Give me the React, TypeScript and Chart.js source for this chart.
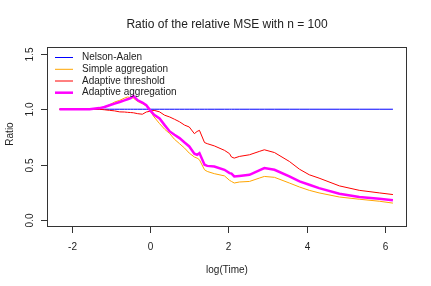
import React, { useEffect, useRef } from "react";
import { Chart, registerables } from "chart.js";

Chart.register(...registerables);

const TITLE = "Ratio of the relative MSE with n = 100";
const X_LABEL = "log(Time)";
const Y_LABEL = "Ratio";
const X_TICKS = [-2, 0, 2, 4, 6];
const X_TICK_LABELS = ["-2", "0", "2", "4", "6"];
const Y_TICKS = [0, 0.5, 1, 1.5];
const Y_TICK_LABELS = ["0.0", "0.5", "1.0", "1.5"];

const LOG_TIME = [
  -2.32, -1.8, -1.55, -1.3, -1.17, -1.04, -0.91, -0.78, -0.66, -0.58, -0.5, -0.43,
  -0.32, -0.2, -0.1, 0.0, 0.1, 0.24, 0.37, 0.5, 0.62, 0.75, 0.88, 1.0, 1.13, 1.2,
  1.26, 1.39, 1.46, 1.64, 1.9, 2.03, 2.08, 2.15, 2.28, 2.54, 2.79, 2.92, 3.18, 3.56,
  3.82, 4.07, 4.32, 4.84, 5.35, 5.86, 6.21,
];

const NELSON_AALEN = [
  1, 1, 1, 1, 1, 1, 1, 1, 1, 1, 1, 1, 1, 1, 1, 1, 1, 1, 1, 1, 1, 1, 1, 1, 1, 1, 1, 1,
  1, 1, 1, 1, 1, 1, 1, 1, 1, 1, 1, 1, 1, 1, 1, 1, 1, 1, 1,
];

const SIMPLE_AGG = [
  1.0, 1.0, 1.0, 1.005, 1.02, 1.04, 1.065, 1.08, 1.1, 1.11, 1.105, 1.1,
  1.07, 1.05, 1.03, 0.985, 0.93, 0.87, 0.82, 0.78, 0.73, 0.69, 0.65, 0.605, 0.57, 0.56,
  0.545, 0.455, 0.44, 0.42, 0.4, 0.36, 0.35, 0.336, 0.345, 0.35, 0.38, 0.395, 0.387, 0.336,
  0.3, 0.27, 0.247, 0.21, 0.19, 0.172, 0.155,
];

const ADAPTIVE_THRESHOLD = [
  1.0, 1.0, 1.0, 1.0, 0.995, 0.99, 0.985, 0.976, 0.975, 0.972, 0.97, 0.968,
  0.96, 0.955, 0.975, 0.982, 0.99, 0.976, 0.946, 0.93, 0.91, 0.887, 0.857, 0.84, 0.78, 0.8,
  0.81, 0.7, 0.69, 0.67, 0.63, 0.6, 0.57, 0.56, 0.575, 0.59, 0.62, 0.635, 0.61, 0.53,
  0.46, 0.41, 0.38, 0.31, 0.27, 0.247, 0.232,
];

const ADAPTIVE_AGG = [
  1.0, 1.0, 1.0, 1.01, 1.02, 1.036, 1.05, 1.065, 1.08, 1.09, 1.1, 1.12,
  1.08, 1.06, 1.036, 0.99, 0.95, 0.917, 0.857, 0.8, 0.77, 0.74, 0.7, 0.665, 0.6, 0.59,
  0.605, 0.5, 0.49, 0.485, 0.455, 0.425, 0.42, 0.395, 0.4, 0.41, 0.45, 0.47, 0.455, 0.395,
  0.35, 0.32, 0.29, 0.24, 0.21, 0.194, 0.18,
];

const SERIES_NAMES = ["Nelson-Aalen", "Simple aggregation", "Adaptive threshold", "Adaptive aggregation"];
const SERIES_COLORS = ["#0000FF", "#FFA500", "#FF0000", "#FF00FF"];
const SERIES_WIDTHS = [1, 1, 1, 2.5];

const FONT = "'Liberation Sans', Arial, Helvetica, sans-serif";

const toPoints = (ys: number[]) => LOG_TIME.map((x, i) => ({ x, y: ys[i] }));

const rFrame = {
  id: "rFrame",
  afterDraw(chart: any) {
    const { ctx, chartArea: a, scales } = chart;
    const xs = scales.x;
    const ys = scales.y;
    ctx.save();
    ctx.strokeStyle = "#333333";
    ctx.lineWidth = 1;
    ctx.strokeRect(a.left + 0.5, a.top + 0.5, a.right - a.left - 1, a.bottom - a.top - 1);

    ctx.fillStyle = "#222222";
    ctx.font = `10px ${FONT}`;
    // x ticks
    X_TICKS.forEach((v, i) => {
      const px = Math.round(xs.getPixelForValue(v)) + 0.5;
      ctx.beginPath();
      ctx.moveTo(px, a.bottom);
      ctx.lineTo(px, a.bottom + 6);
      ctx.stroke();
      ctx.textAlign = "center";
      ctx.textBaseline = "middle";
      ctx.fillText(X_TICK_LABELS[i], px, a.bottom + 20);
    });
    // y ticks
    Y_TICKS.forEach((v, i) => {
      const py = Math.round(ys.getPixelForValue(v)) + 0.5;
      ctx.beginPath();
      ctx.moveTo(a.left - 6, py);
      ctx.lineTo(a.left, py);
      ctx.stroke();
      ctx.save();
      ctx.translate(a.left - 17, py);
      ctx.rotate(-Math.PI / 2);
      ctx.textAlign = "center";
      ctx.textBaseline = "middle";
      ctx.fillText(Y_TICK_LABELS[i], 0, 0);
      ctx.restore();
    });
    const cx = (a.left + a.right) / 2;
    // axis titles
    ctx.textAlign = "center";
    ctx.textBaseline = "middle";
    ctx.fillText(X_LABEL, cx, a.bottom + 43);
    ctx.save();
    ctx.translate(10, (a.top + a.bottom) / 2 - 3);
    ctx.rotate(-Math.PI / 2);
    ctx.fillText(Y_LABEL, 0, 0);
    ctx.restore();
    // title
    ctx.font = `12px ${FONT}`;
    ctx.textBaseline = "alphabetic";
    ctx.fillText(TITLE, cx, 27.5);

    // legend
    ctx.font = `10px ${FONT}`;
    ctx.textAlign = "left";
    ctx.textBaseline = "middle";
    const rowY = [57.5, 69.3, 81, 92.7];
    chart.data.datasets.forEach((ds: any, i: number) => {
      const y = rowY[i];
      ctx.strokeStyle = ds.borderColor;
      ctx.lineWidth = ds.borderWidth;
      ctx.beginPath();
      ctx.moveTo(a.left + 8, y);
      ctx.lineTo(a.left + 26, y);
      ctx.stroke();
      ctx.fillStyle = "#222222";
      ctx.fillText(ds.label, a.left + 35, y);
    });
    ctx.restore();
  },
};

export default function App() {
  const ref = useRef<HTMLCanvasElement | null>(null);

  useEffect(() => {
    if (!ref.current) return;
    const seriesData = [NELSON_AALEN, SIMPLE_AGG, ADAPTIVE_THRESHOLD, ADAPTIVE_AGG];
    const chart = new Chart(ref.current, {
      type: "line",
      data: {
        datasets: seriesData.map((ys, i) => ({
          label: SERIES_NAMES[i],
          data: toPoints(ys),
          borderColor: SERIES_COLORS[i],
          backgroundColor: SERIES_COLORS[i],
          borderWidth: SERIES_WIDTHS[i],
          pointRadius: 0,
          tension: 0,
          fill: false,
          order: 3 - i,
        })),
      },
      options: {
        animation: false,
        responsive: false,
        maintainAspectRatio: false,
        devicePixelRatio: 1,
        layout: { padding: { left: 47, top: 47, right: 24, bottom: 59 } },
        plugins: {
          legend: { display: false },
          title: { display: false },
          tooltip: { enabled: false },
        },
        scales: {
          x: { type: "linear", min: -2.64, max: 6.57, display: false },
          y: { type: "linear", min: -0.06, max: 1.56, display: false },
        },
      },
      plugins: [rFrame],
    });
    return () => chart.destroy();
  }, []);

  return (
    <div style={{ position: "absolute", left: 0, top: 0, width: 431, height: 286, background: "#fff" }}>
      <canvas ref={ref} width={431} height={286} style={{ width: 431, height: 286 }} />
    </div>
  );
}
